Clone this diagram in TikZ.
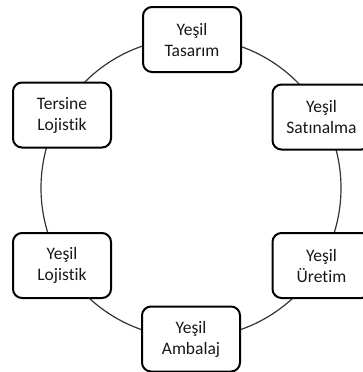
\documentclass[tikz,border=0pt]{standalone}
\usepackage{fontspec}
\setmainfont{Carlito}[Ligatures={NoCommon}]
\begin{document}
\begin{tikzpicture}[x=1pt,y=-1pt,
 box/.style={draw=black, line width=2pt, rounded corners=9pt, fill=white, minimum width=98pt, minimum height=65pt, align=center, text=black!90, font=\fontsize{17.5}{21}\selectfont, inner sep=0pt},
 ring/.style={draw=black!80, line width=1.2pt}]
\useasboundingbox (0,0) rectangle (362,372);
\coordinate (c) at (191,188);
\draw[ring] (c) circle[radius=150];
\node[box] (t) at (192,39.5) {Yeşil\\Tasarım};
\node[box] (rt) at (321.5,117) {Yeşil\\Satınalma};
\node[box] (rb) at (321.5,265.5) {Yeşil\\Üretim};
\node[box] (b) at (191,339) {Yeşil\\Ambalaj};
\node[box] (lb) at (62,265.5) {Yeşil\\Lojistik};
\node[box] (lt) at (62,115) {Tersine\\Lojistik};
\end{tikzpicture}
\end{document}
